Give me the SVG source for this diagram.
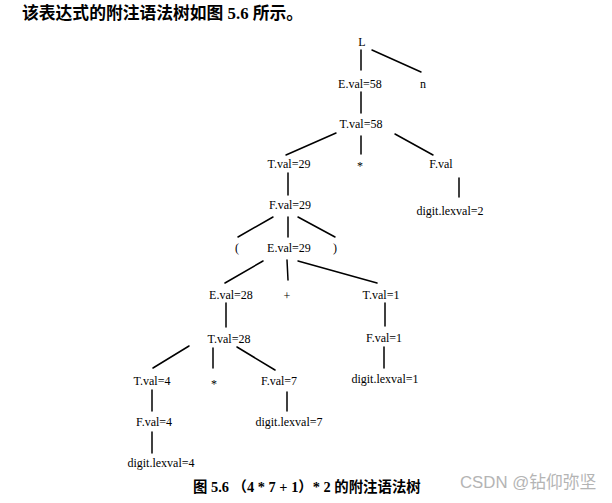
<svg xmlns="http://www.w3.org/2000/svg" width="612" height="503" viewBox="0 0 612 503">
<style>
.t{font-family:"Liberation Serif","Noto Sans CJK SC",serif;font-size:12px;fill:#000;text-anchor:middle}
.h{font-family:"Liberation Serif","Noto Sans CJK SC",serif;font-size:16.8px;font-weight:bold;fill:#000}
.c{font-family:"Liberation Serif","Noto Sans CJK SC",serif;font-size:14.4px;font-weight:bold;fill:#000}
.w{font-family:"Liberation Sans","Noto Sans CJK SC",sans-serif;font-size:16.8px;fill:#b4b4b4}
#edges line{stroke:#000;stroke-width:1.5;stroke-linecap:round}
</style>
<rect width="612" height="503" fill="#fff"/>
<text class="h" x="22" y="19">该表达式的附注语法树如图 5.6 所示。</text>
<g id="edges">
<line x1="361" y1="50" x2="361" y2="70"/>
<line x1="372" y1="50" x2="421" y2="72"/>
<line x1="361" y1="92" x2="361" y2="113"/>
<line x1="336" y1="133" x2="286" y2="155"/>
<line x1="361" y1="136" x2="361" y2="154"/>
<line x1="395" y1="134" x2="433" y2="155"/>
<line x1="288" y1="173" x2="288" y2="195"/>
<line x1="459" y1="178" x2="459" y2="197"/>
<line x1="273" y1="217" x2="238" y2="237"/>
<line x1="288" y1="217" x2="288" y2="237"/>
<line x1="298" y1="217" x2="335" y2="237"/>
<line x1="263" y1="261" x2="225" y2="283"/>
<line x1="287" y1="260" x2="288" y2="280"/>
<line x1="298" y1="261" x2="377" y2="283"/>
<line x1="226" y1="303" x2="226" y2="327"/>
<line x1="385" y1="303" x2="385" y2="326"/>
<line x1="189" y1="346" x2="153" y2="368"/>
<line x1="213" y1="348" x2="213" y2="368"/>
<line x1="237" y1="347" x2="275" y2="370"/>
<line x1="384" y1="347" x2="384" y2="368"/>
<line x1="152" y1="390" x2="152" y2="411"/>
<line x1="287" y1="392" x2="287" y2="411"/>
<line x1="152" y1="432" x2="152" y2="453"/>
</g>
<g id="n_L"><text class="t" x="362" y="46">L</text></g>
<g id="n_E58"><text class="t" x="360" y="88">E.val=58</text></g>
<g id="n_n"><text class="t" x="423" y="88">n</text></g>
<g id="n_T58"><text class="t" x="361" y="128">T.val=58</text></g>
<g id="n_T29"><text class="t" x="289" y="168">T.val=29</text></g>
<g id="n_star1"><text class="t" x="360" y="170">*</text></g>
<g id="n_Fval"><text class="t" x="441" y="168">F.val</text></g>
<g id="n_F29"><text class="t" x="290" y="209">F.val=29</text></g>
<g id="n_d2"><text class="t" x="450" y="215">digit.lexval=2</text></g>
<g id="n_lp"><text class="t" x="237" y="252">(</text></g>
<g id="n_E29"><text class="t" x="289" y="252">E.val=29</text></g>
<g id="n_rp"><text class="t" x="335" y="252">)</text></g>
<g id="n_E28"><text class="t" x="231" y="299">E.val=28</text></g>
<g id="n_plus"><text class="t" x="287" y="300">+</text></g>
<g id="n_T1"><text class="t" x="381" y="299">T.val=1</text></g>
<g id="n_T28"><text class="t" x="229" y="343">T.val=28</text></g>
<g id="n_F1"><text class="t" x="384" y="342">F.val=1</text></g>
<g id="n_T4"><text class="t" x="152" y="385">T.val=4</text></g>
<g id="n_star2"><text class="t" x="214" y="388">*</text></g>
<g id="n_F7"><text class="t" x="279" y="385">F.val=7</text></g>
<g id="n_d1"><text class="t" x="385" y="383">digit.lexval=1</text></g>
<g id="n_F4"><text class="t" x="154" y="426">F.val=4</text></g>
<g id="n_d7"><text class="t" x="289" y="426">digit.lexval=7</text></g>
<g id="n_d4"><text class="t" x="161" y="467">digit.lexval=4</text></g>
<text class="c" x="193" y="492">图 5.6  （4 * 7 + 1）* 2 的附注语法树</text>
<text class="w" x="460" y="488">CSDN @钻仰弥坚</text>
</svg>
